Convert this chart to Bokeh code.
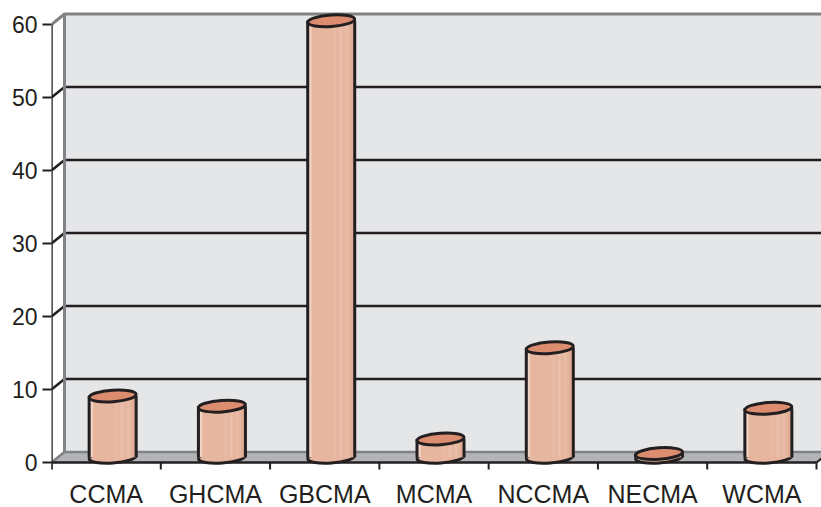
from bokeh.plotting import figure
from bokeh.models import Range1d, FixedTicker
from bokeh.core.properties import value
from bokeh.embed import file_html
from bokeh.resources import INLINE

# ---- data -------------------------------------------------------------
categories = ["CCMA", "GHCMA", "GBCMA", "MCMA", "NCCMA", "NECMA", "WCMA"]
shares = [8.4, 7.0, 59.8, 2.5, 15.0, 0.5, 6.7]
y_ticks = [0, 10, 20, 30, 40, 50, 60]

# ---- geometry of the pseudo-3D box --------------------------------------
W, H = 821, 507
LEFT, TOP = 51, 10
FRAME_W = W - LEFT
FRAME_H = H - TOP
PX_X = 765 / len(categories)          # pixels per category
PX_Y = 438 / 60.0                     # pixels per value unit
Y0_PIX = 452                          # distance of value 0 from frame top
DX = 13 / PX_X                        # depth offset, data units
DY = 10.5 / PX_Y
N = len(categories)
YMAX = 60

x_end = FRAME_W / PX_X
y_end = Y0_PIX / PX_Y
y_start = -(FRAME_H - Y0_PIX) / PX_Y

FONT = value("Liberation Sans")
INK = "#231f20"
WALL = "#e5e6e8"
FLOOR = "#b2b4b7"
EDGE = "#808285"
BODY = "#e6b69f"
CAP = "#dc8d70"

p = figure(width=W, height=H, output_backend="svg", toolbar_location=None,
           x_axis_location=None, x_range=Range1d(0, x_end),
           y_range=Range1d(y_start, y_end),
           min_border_left=LEFT, min_border_right=0,
           min_border_top=TOP, min_border_bottom=0)
p.outline_line_color = None
p.background_fill_color = "white"
p.grid.visible = False

# y axis: ticks and labels only, the spine is drawn below
ya = p.yaxis[0]
ya.ticker = FixedTicker(ticks=y_ticks)
ya.axis_line_color = None
ya.major_tick_out = 9
ya.major_tick_in = 0
ya.major_tick_line_width = 2
ya.major_tick_line_color = INK
ya.minor_tick_line_color = None
ya.major_label_standoff = 5
ya.major_label_text_font = "Liberation Sans"
ya.major_label_text_font_size = "23px"
ya.major_label_text_color = INK

# back wall
p.quad(left=DX, right=N + DX, bottom=DY, top=YMAX + DY,
       fill_color=WALL, line_color=None)

# grid lines on the back wall and across the side wall
grid_vals = [v for v in y_ticks if 0 < v < YMAX]
p.segment(x0=[DX] * len(grid_vals), y0=[v + DY for v in grid_vals],
          x1=[N + DX] * len(grid_vals), y1=[v + DY for v in grid_vals],
          line_color=INK, line_width=2.5)
p.segment(x0=[0] * len(grid_vals), y0=grid_vals,
          x1=[DX] * len(grid_vals), y1=[v + DY for v in grid_vals],
          line_color=INK, line_width=2.5)

# wall outline
p.line(x=[0, DX, N + DX], y=[YMAX, YMAX + DY, YMAX + DY],
       line_color=EDGE, line_width=3)
p.line(x=[DX, DX], y=[DY, YMAX + DY], line_color=EDGE, line_width=3)

# floor
p.patch(x=[0, N, N + DX, DX], y=[0, 0, DY, DY],
        fill_color=FLOOR, line_color=None)
p.line(x=[0, DX, N + DX], y=[0, DY, DY], line_color=EDGE, line_width=2.5)
p.line(x=[N, N + DX], y=[0, DY], line_color=INK, line_width=2)

# front axes
tick_len = 7 / PX_Y
p.line(x=[0, 0], y=[-tick_len, YMAX], line_color=INK, line_width=2.5)
p.line(x=[0, N], y=[0, 0], line_color=INK, line_width=2.5)
bounds = list(range(N + 1))
p.segment(x0=bounds, y0=[0] * len(bounds), x1=bounds,
          y1=[-tick_len] * len(bounds), line_color=INK, line_width=2)

# category labels
label_y = -31 / PX_Y
p.text(x=[i + 0.5 for i in range(N)], y=[label_y] * N, text=categories,
       text_font=FONT, text_font_size="25px", text_color=INK,
       text_align="center", text_baseline="alphabetic")

# cylinders
CYL_W = 47                     # px
CYL_E = 11.5                   # ellipse height, px
TILT = 0.07                    # rad
cx = [i + 0.5 + DX / 2 for i in range(N)]
base = DY / 2
tops = [base + v for v in shares]
w_data = CYL_W / PX_X

p.ellipse(x=cx, y=[base] * N, width=CYL_W, height=CYL_E, angle=TILT,
          width_units="screen", height_units="screen",
          fill_color=BODY, line_color=INK, line_width=3)
p.vbar(x=cx, bottom=base, top=tops, width=w_data,
       fill_color=BODY, line_color=None)
# soft vertical shading on the cylinder bodies
for off, wd, col, a in [(-0.45, 0.06, "white", 0.4),
                        (0.08, 0.03, "white", 0.12),
                        (0.2, 0.06, "white", 0.12),
                        (0.33, 0.04, "white", 0.12),
                        (0.44, 0.06, "#c98f78", 0.2)]:
    p.vbar(x=[c + off * w_data for c in cx], bottom=base, top=tops,
           width=wd * w_data, fill_color=col, fill_alpha=a, line_color=None)
p.segment(x0=[c - w_data / 2 for c in cx], y0=[base] * N,
          x1=[c - w_data / 2 for c in cx], y1=tops,
          line_color=INK, line_width=3)
p.segment(x0=[c + w_data / 2 for c in cx], y0=[base] * N,
          x1=[c + w_data / 2 for c in cx], y1=tops,
          line_color=INK, line_width=3)
p.ellipse(x=cx, y=tops, width=CYL_W, height=CYL_E, angle=TILT,
          width_units="screen", height_units="screen",
          fill_color=CAP, line_color=INK, line_width=3)

open("out.html", "w").write(file_html(p, INLINE))
